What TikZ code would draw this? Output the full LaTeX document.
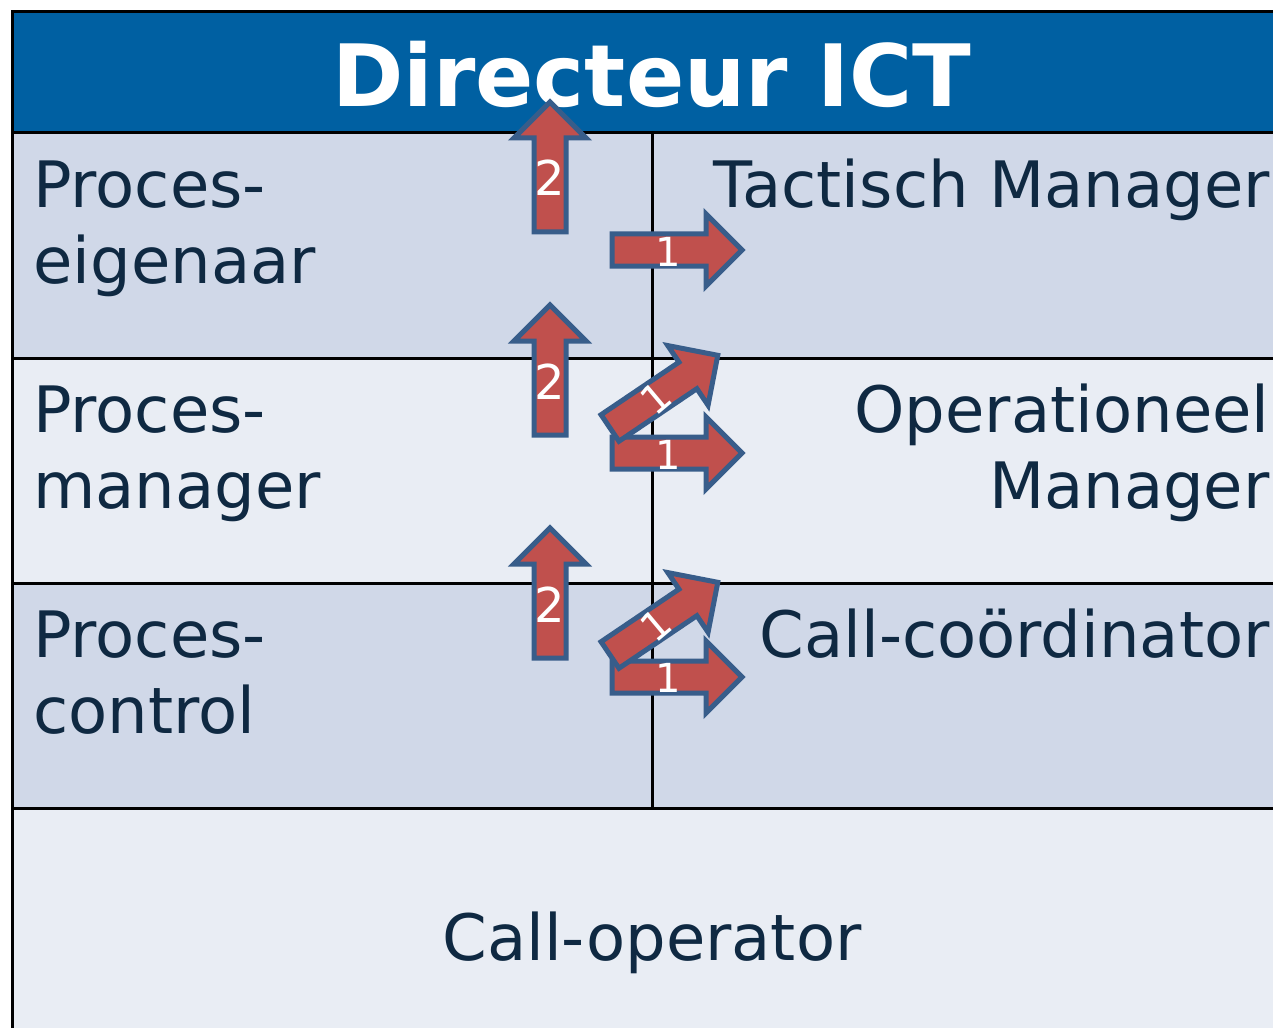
\documentclass[tikz,border=0pt]{standalone}
\usepackage{fontspec}
\setmainfont{DejaVu Sans}
\definecolor{headblue}{RGB}{0,96,162}
\definecolor{rowdark}{RGB}{208,216,232}
\definecolor{rowlight}{RGB}{233,237,244}
\definecolor{inktext}{RGB}{15,41,66}
\definecolor{arrowred}{RGB}{192,80,77}
\definecolor{arrowline}{RGB}{56,93,138}
\tikzset{
  cell/.style={draw=black, line width=1.5pt},
  rolename/.style={inner sep=0pt, text=inktext, font=\fontsize{32pt}{38pt}\selectfont},
  numlabel/.style={inner sep=0pt, text=white},
  arrowbody/.style={fill=arrowred, draw=arrowline, line width=2.5pt, line join=miter},
  pics/blockarrow/.style={code={
    \draw[arrowbody] (0,-16) -- (94,-16) -- (94,-36) -- (130,0) -- (94,36) -- (94,16) -- (0,16) -- cycle;
  }}
}
\begin{document}
\begin{tikzpicture}[x=0.5pt, y=-0.5pt]
  \useasboundingbox (0,0) rectangle (1273,1027);
  \clip (0,0) rectangle (1273,1027);
  % Cells
  \draw[cell, fill=headblue] (12,12) rectangle (1310,133);
  \draw[cell, fill=rowdark] (12,133) rectangle (652,358);
  \draw[cell, fill=rowdark] (652,133) rectangle (1310,358);
  \draw[cell, fill=rowlight] (12,358) rectangle (652,583);
  \draw[cell, fill=rowlight] (652,358) rectangle (1310,583);
  \draw[cell, fill=rowdark] (12,583) rectangle (652,808);
  \draw[cell, fill=rowdark] (652,583) rectangle (1310,808);
  \draw[cell, fill=rowlight] (12,808) rectangle (1310,1080);
  % Texts (base = last line)
  \node (dir) [anchor=base, inner sep=0pt, text=white, font=\fontsize{43pt}{50pt}\selectfont\bfseries] at (652,107) {Directeur ICT};
  \node (pe) [rolename, anchor=base west, align=left] at (33,283) {Proces-\\eigenaar};
  \node (pm) [rolename, anchor=base west, align=left] at (33,508) {Proces-\\manager};
  \node (pc) [rolename, anchor=base west, align=left] at (33,733) {Proces-\\control};
  \node (tm) [rolename, anchor=base east] at (1270,207) {Tactisch Manager};
  \node (om) [rolename, anchor=base east, align=right] at (1270,508) {Operationeel\\Manager};
  \node (cc) [rolename, anchor=base east] at (1270,657) {Call-coördinator};
  \node (co) [rolename, anchor=base] at (652,960) {Call-operator};
  % Arrows
  \pic[rotate=90] at (550,232) {blockarrow};
  \pic[rotate=90] at (550,435) {blockarrow};
  \pic[rotate=90] at (550,658) {blockarrow};
  \pic at (612,250) {blockarrow};
  \pic at (612,453) {blockarrow};
  \pic at (612,677) {blockarrow};
  \pic[rotate=34] at (610,428) {blockarrow};
  \pic[rotate=34] at (610,655) {blockarrow};
  % Numbers
  \node (up-1) [numlabel, font=\fontsize{24pt}{24pt}\selectfont] at (550,178) {2};
  \node (up-2) [numlabel, font=\fontsize{24pt}{24pt}\selectfont] at (550,382) {2};
  \node (up-3) [numlabel, font=\fontsize{24pt}{24pt}\selectfont] at (550,605) {2};
  \node (side-1) [numlabel, font=\fontsize{20pt}{20pt}\selectfont] at (668,252) {1};
  \node (side-2) [numlabel, font=\fontsize{20pt}{20pt}\selectfont] at (668,455) {1};
  \node (side-3) [numlabel, font=\fontsize{20pt}{20pt}\selectfont] at (668,678) {1};
  \node (diag-2) [numlabel, rotate=40, font=\fontsize{20pt}{20pt}\selectfont] at (656,398) {1};
  \node (diag-3) [numlabel, rotate=40, font=\fontsize{20pt}{20pt}\selectfont] at (656,625) {1};
\end{tikzpicture}
\end{document}
